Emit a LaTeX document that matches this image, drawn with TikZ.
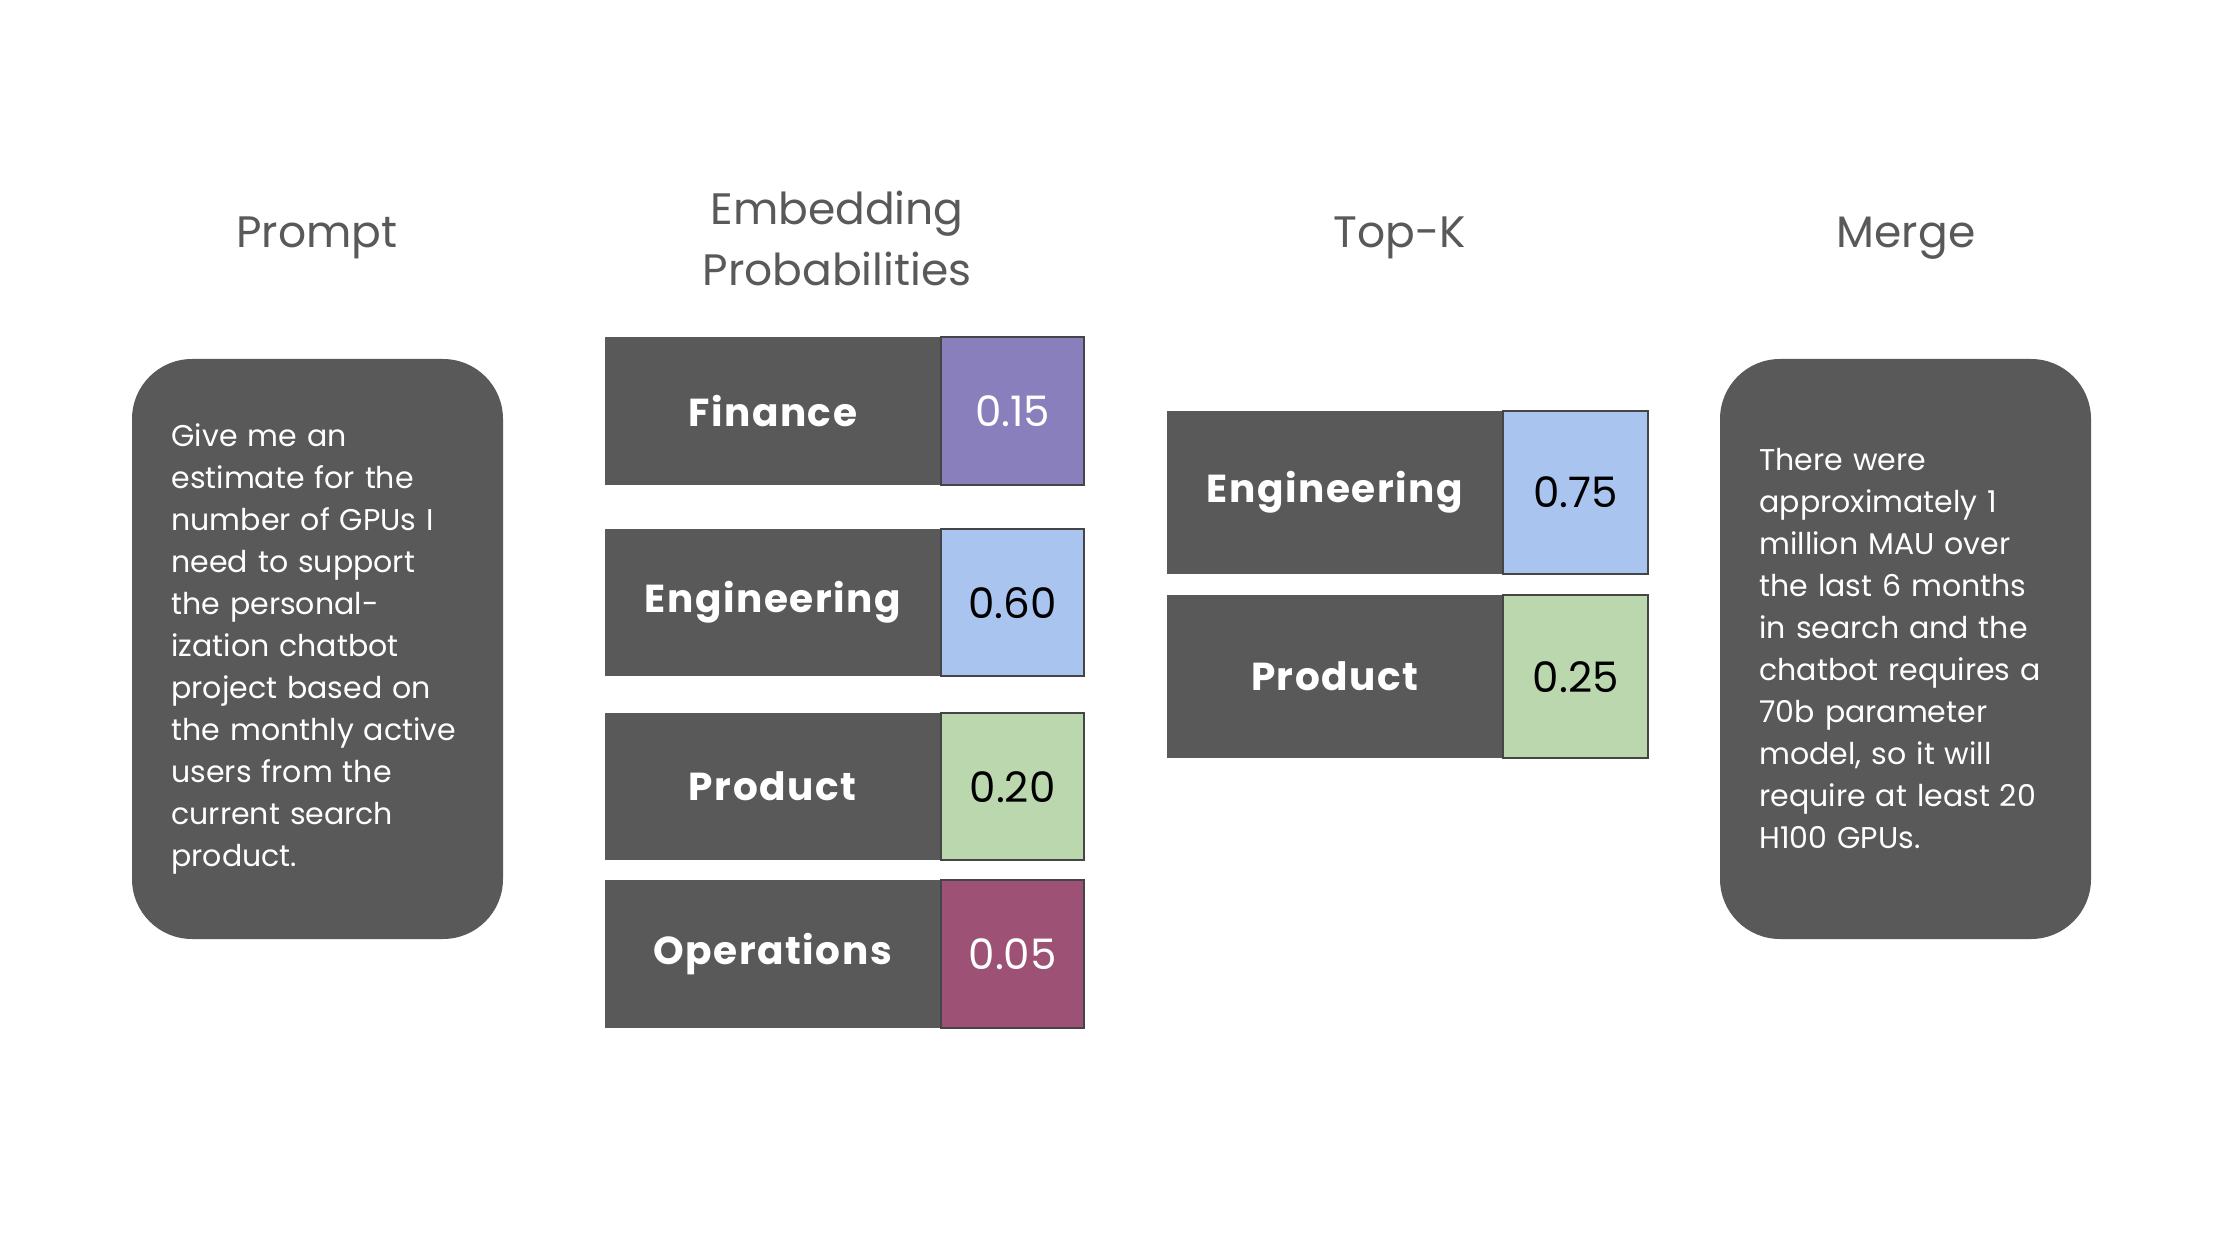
\documentclass[tikz,border=0pt]{standalone}
\usepackage{fontspec}
\setmainfont{Poppins}
\usetikzlibrary{positioning}

\begin{document}
\begin{tikzpicture}[
    x=1pt, y=-1pt,
    % Styles
    title/.style={text=panelGray, font=\fontsize{44}{61}\selectfont, align=center},
    panel/.style={fill=panelGray, rounded corners=60pt, minimum width=371pt, minimum height=580pt,
        inner sep=0pt, text width=292pt, align=left, text=white, font=\fontsize{30}{42}\selectfont},
    catbox/.style={fill=panelGray, anchor=north west, inner sep=0pt, minimum width=335pt,
        text=white, font=\bfseries\fontsize{39}{42}\selectfont\addfontfeature{LetterSpace=4}},
    probbox/.style={draw=edgeGray, line width=1.5pt, inner sep=0pt, minimum width=143pt,
        font=\fontsize{42}{44}\selectfont}
    ]
    
    % Colors
    \definecolor{panelGray}{HTML}{595959}
    \definecolor{edgeGray}{HTML}{454545}
    \definecolor{finColor}{HTML}{8A7FBD}
    \definecolor{engColor}{HTML}{A9C4EF}
    \definecolor{prodColor}{HTML}{BBD7AD}
    \definecolor{opsColor}{HTML}{9C5175}
    
    % Canvas
    \fill[white] (0,0) rectangle (2220,1238);
    \useasboundingbox (0,0) rectangle (2220,1238);
    
    % Titles
    \node[title] (tPrompt) at (317,238) {Prompt};
    \node[title] (tEmb)    at (837,238) {Embedding\\Probabilities};
    \node[title] (tTopk)   at (1400,238) {Top-K};
    \node[title] (tMerge)  at (1906,238) {Merge};
    
    % Prompt
    \node[panel] (prompt) at (317.5,649) {Give me an\\estimate for the\\number of GPUs I\\need to support\\the personal-\\ization chatbot\\project based on\\the monthly active\\users from the\\current search\\product.};
    
    % Embedding probabilities
    \node[catbox, minimum height=148pt] (fin) at (605,337) {Finance};
    \node[probbox, fill=finColor, text=white, minimum height=148pt, right=0pt of fin] (finv) {0.15};
    
    \node[catbox, minimum height=147pt] (eng) at (605,529) {Engineering};
    \node[probbox, fill=engColor, text=black, minimum height=147pt, right=0pt of eng] (engv) {0.60};
    
    \node[catbox, minimum height=147pt] (prod) at (605,713) {Product};
    \node[probbox, fill=prodColor, text=black, minimum height=147pt, right=0pt of prod] (prodv) {0.20};
    
    \node[catbox, minimum height=148pt] (ops) at (605,880) {Operations};
    \node[probbox, fill=opsColor, text=white, minimum height=148pt, right=0pt of ops] (opsv) {0.05};
    
    % Top-K
    \node[catbox, minimum height=163pt] (topEng) at (1167,411) {Engineering};
    \node[probbox, fill=engColor, text=black, minimum height=163pt, minimum width=145pt, right=0pt of topEng] (topEngv) {0.75};
    
    \node[catbox, minimum height=163pt] (topProd) at (1167,595) {Product};
    \node[probbox, fill=prodColor, text=black, minimum height=163pt, minimum width=145pt, right=0pt of topProd] (topProdv) {0.25};
    
    % Merge
    \node[panel] (merge) at (1905.5,649) {There were\\approximately 1\\million MAU over\\the last 6 months\\in search and the\\chatbot requires a\\70b parameter\\model, so it will\\require at least 20\\H100 GPUs.};
\end{tikzpicture}
\end{document}
